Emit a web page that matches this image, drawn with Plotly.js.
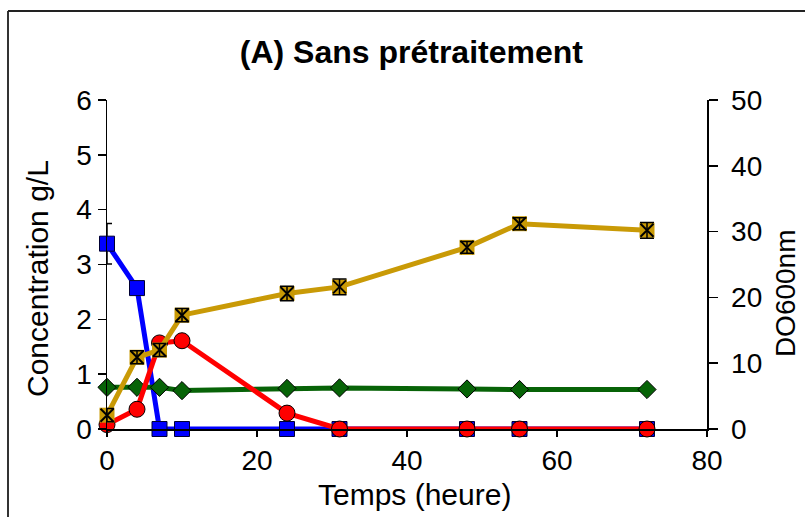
<!DOCTYPE html>
<html>
<head>
<meta charset="utf-8">
<script src="https://cdn.plot.ly/plotly-3.0.1.min.js"></script>
<style>html,body{margin:0;padding:0;background:#fff;}#chart{width:805px;height:517px;}</style>
</head>
<body>
<div id="chart"></div>
<script>
// Time points (hours)
const temps = [0, 4, 7, 10, 24, 31, 48, 55, 72];
// Left axis: concentration g/L
const bleu = [3.38, 2.57, 0, 0, 0, 0, 0, 0, 0];
const bleuErr = [0.37, 0, 0, 0, 0, 0, 0, 0, 0];
const rouge = [0.08, 0.36, 1.57, 1.61, 0.29, 0, 0, 0, 0];
const rougeErr = [0, 0, 0.08, 0.08, 0, 0, 0, 0, 0];
const vert = [0.76, 0.76, 0.76, 0.70, 0.74, 0.75, 0.73, 0.72, 0.72];
// Right axis: DO600nm
const or = [2.1, 10.9, 12.0, 17.3, 20.6, 21.6, 27.6, 31.2, 30.2];
const orErr = [1.0, 1.0, 1.0, 1.0, 1.1, 1.2, 0.9, 0.9, 1.2];

const font = 'Liberation Sans, Arial, sans-serif';
const traces = [
  {x: temps, y: bleu, type: 'scatter', mode: 'lines+markers', yaxis: 'y', cliponaxis: false,
   line: {color: '#0000FF', width: 5},
   marker: {symbol: 'square', size: 15, color: '#0000FF', line: {color: '#000033', width: 1}},
   error_y: {type: 'data', array: bleuErr, visible: true, color: '#000', thickness: 1.5, width: 5}},
  {x: temps, y: vert, type: 'scatter', mode: 'lines+markers', yaxis: 'y', cliponaxis: false,
   line: {color: '#076307', width: 5},
   marker: {symbol: 'diamond', size: 14, color: '#076307', line: {color: '#000', width: 1}}},
  {x: temps, y: rouge, type: 'scatter', mode: 'lines+markers', yaxis: 'y', cliponaxis: false,
   line: {color: '#FF0000', width: 5},
   marker: {symbol: 'circle', size: 16, color: '#FF0000', line: {color: '#000', width: 1}},
   error_y: {type: 'data', array: rougeErr, visible: true, color: '#000', thickness: 1.5, width: 5}},
  {x: temps, y: or, type: 'scatter', mode: 'lines+markers', yaxis: 'y2', cliponaxis: false,
   line: {color: '#C99A06', width: 5},
   marker: {symbol: 'square', size: 15, color: '#C99A06', line: {color: '#C99A06', width: 0}}},
  {x: temps, y: or, type: 'scatter', mode: 'markers', yaxis: 'y2', cliponaxis: false,
   marker: {symbol: 'x-thin-open', size: 13, color: '#000', line: {color: '#000', width: 2}},
   error_y: {type: 'data', array: orErr, visible: true, color: '#000', thickness: 1.5, width: 7}}
];

const layout = {
  width: 805, height: 517,
  margin: {l: 107, r: 98, t: 100, b: 88},
  paper_bgcolor: '#fff', plot_bgcolor: 'rgba(0,0,0,0)',
  showlegend: false,
  font: {family: font, color: '#000', size: 28},
  title: {text: '<b>(A) Sans prétraitement</b>', font: {family: font, size: 32, color: '#000'},
          x: 0.511, xanchor: 'center', y: 0.9, yanchor: 'middle'},
  xaxis: {range: [0, 80], tickvals: [0, 20, 40, 60, 80], showgrid: false, zeroline: false,
          showline: true, linecolor: '#000', linewidth: 1.5,
          ticks: 'outside', ticklen: 6, tickwidth: 1.5, tickcolor: '#000',
          tickfont: {size: 28, family: font}},
  yaxis: {range: [0, 6], tickvals: [0, 1, 2, 3, 4, 5, 6], showgrid: false, zeroline: false,
          showline: true, linecolor: '#000', linewidth: 1.5,
          ticks: 'outside', ticklen: 8, tickwidth: 1.5, tickcolor: '#000',
          tickfont: {size: 28, family: font}},
  yaxis2: {range: [0, 50], tickvals: [0, 10, 20, 30, 40, 50], overlaying: 'y', side: 'right',
           showgrid: false, zeroline: false,
           showline: true, linecolor: '#000', linewidth: 1.5,
           ticks: 'outside', ticklen: 9, tickwidth: 1.5, tickcolor: '#000',
           ticklabelstandoff: 8,
           tickfont: {size: 28, family: font}},
  annotations: [
    {text: 'Temps (heure)', xref: 'paper', yref: 'paper',
     x: 0.512, y: -0.2, xanchor: 'center', yanchor: 'middle', showarrow: false,
     font: {size: 30, family: font, color: '#000'}},
    {text: 'Concentration g/L', textangle: -90, xref: 'paper', yref: 'paper',
     x: -0.115, y: 0.456, xanchor: 'center', yanchor: 'middle', showarrow: false,
     font: {size: 30, family: font, color: '#000'}},
    {text: 'DO600nm', textangle: -90, xref: 'paper', yref: 'paper',
     x: 1.13, y: 0.413, xanchor: 'center', yanchor: 'middle', showarrow: false,
     font: {size: 28, family: font, color: '#000'}}
  ],
  shapes: [
    {type: 'line', xref: 'paper', yref: 'paper', x0: -0.165, x1: -0.165, y0: -0.4, y1: 1.2705,
     line: {color: '#333', width: 2}},
    {type: 'line', xref: 'paper', yref: 'paper', x0: -0.165, x1: 1.2, y0: 1.2705, y1: 1.2705,
     line: {color: '#222', width: 2}}
  ]
};

Plotly.newPlot('chart', traces, layout, {displayModeBar: false, staticPlot: true});
</script>
</body>
</html>
